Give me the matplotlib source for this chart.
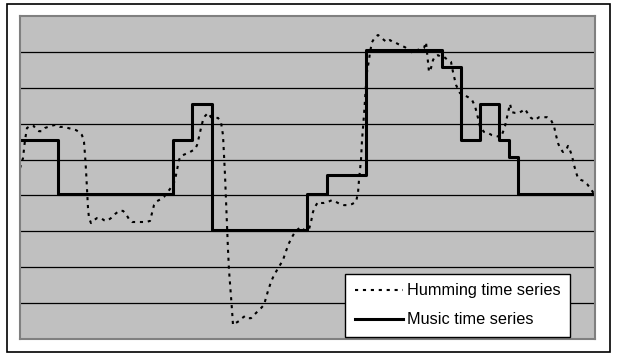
import matplotlib
matplotlib.use('Agg')
import matplotlib.pyplot as plt
from matplotlib.patches import Rectangle

# humming pitch contour (time in frames, pitch in grid units)
hum_t = [0, 3, 5, 7, 10, 13, 16, 19, 22, 25,
         28, 31, 34, 37, 40, 44, 48, 52, 56, 59,
         62, 64, 65, 66, 67, 68, 69, 71, 74, 77,
         81, 84, 87, 91, 95, 99, 103, 106, 109, 112,
         116, 121, 126, 130, 132, 134, 137, 141, 144, 147,
         150, 153, 155, 157, 159, 161, 165, 170, 175, 177,
         179, 181, 183, 185, 188, 191, 194, 198, 201, 203,
         204, 205, 206, 207, 208, 209, 210, 211, 212, 213,
         216, 219, 222, 225, 228, 231, 234, 237, 241, 244,
         246, 248, 251, 254, 257, 260, 263, 266, 269, 272,
         275, 278, 281, 284, 287, 289, 291, 293, 295, 298,
         301, 304, 308, 312, 316, 320, 324, 328, 332, 336,
         338, 339, 341, 342, 344, 345, 346, 347, 349, 350,
         352, 355, 358, 361, 364, 367, 370, 373, 376, 380,
         385, 389, 393, 397, 401, 404, 406, 407, 408, 409,
         411, 413, 415, 418, 421, 424, 428, 431, 433, 436,
         440, 444, 448, 452, 455, 458, 460, 464, 468, 472,
         477, 481, 483, 485, 487, 489, 490, 492, 495, 499,
         502, 505, 508, 511, 515, 519, 523, 527, 531, 534,
         536, 538, 540, 543, 546, 548, 550, 552, 554, 556,
         558, 561, 564, 567, 570, 573, 575]
hum_pitch = [4.76, 5.04, 5.54, 5.88, 5.93, 5.96, 5.85, 5.79, 5.79, 5.88,
             5.91, 5.93, 5.96, 5.96, 5.91, 5.91, 5.88, 5.85, 5.82, 5.77,
             5.68, 5.49, 5.13, 4.71, 4.15, 3.65, 3.37, 3.23, 3.31, 3.37,
             3.37, 3.31, 3.29, 3.37, 3.48, 3.57, 3.57, 3.48, 3.34, 3.26,
             3.26, 3.26, 3.26, 3.29, 3.51, 3.73, 3.84, 3.90, 3.96, 4.07,
             4.18, 4.29, 4.43, 4.71, 4.99, 5.10, 5.15, 5.21, 5.29, 5.40,
             5.63, 5.88, 6.10, 6.21, 6.30, 6.18, 6.16, 6.16, 6.04, 5.68,
             5.13, 4.57, 3.87, 3.18, 2.48, 1.92, 1.56, 1.23, 0.81, 0.39,
             0.45, 0.50, 0.58, 0.64, 0.58, 0.58, 0.67, 0.75, 0.86, 0.95,
             1.14, 1.34, 1.59, 1.78, 1.92, 2.06, 2.20, 2.45, 2.67, 2.84,
             2.98, 3.06, 3.12, 3.04, 3.01, 3.06, 3.26, 3.54, 3.68, 3.82,
             3.79, 3.79, 3.82, 3.87, 3.82, 3.76, 3.73, 3.73, 3.76, 3.82,
             4.07, 4.43, 4.99, 5.54, 6.24, 6.66, 7.08, 7.44, 7.77, 7.99,
             8.27, 8.41, 8.47, 8.41, 8.33, 8.27, 8.33, 8.27, 8.25, 8.19,
             8.13, 8.05, 7.97, 8.05, 8.08, 8.11, 8.27, 7.99, 7.69, 7.44,
             7.55, 7.77, 7.88, 7.91, 7.86, 7.86, 7.77, 7.72, 7.44, 7.08,
             6.85, 6.80, 6.74, 6.66, 6.49, 6.16, 5.91, 5.77, 5.74, 5.68,
             5.65, 5.63, 5.77, 5.93, 6.18, 6.43, 6.55, 6.32, 6.30, 6.30,
             6.35, 6.41, 6.27, 6.16, 6.10, 6.18, 6.18, 6.18, 6.10, 5.93,
             5.68, 5.46, 5.32, 5.21, 5.26, 5.38, 5.26, 5.10, 4.85, 4.65,
             4.48, 4.43, 4.40, 4.32, 4.21, 4.09, 4.04]

# note onsets of the melody and the pitch held from each onset
music_t = [0, 38, 153, 172, 192, 287, 307, 346, 422, 441, 460, 479, 489, 498, 575]
music_pitch = [5.54, 4.04, 5.54, 6.55, 3.04, 4.04, 4.57, 8.05, 7.58, 5.54,
               6.55, 5.54, 5.07, 4.04, 4.04]

labels = ['Humming time series', 'Music time series']


def draw():
    W, H = 618, 354
    fig = plt.figure(figsize=(W / 100, H / 100), dpi=100)

    # chart border
    fig.patches.append(Rectangle((7 / W, 2 / H), 603 / W, 348 / H,
                                 transform=fig.transFigure, fill=False,
                                 ec='black', lw=1.2))

    ax = fig.add_axes([20 / W, 15 / H, 575 / W, 323 / H])
    ax.set_facecolor('#c0c0c0')
    for s in ax.spines.values():
        s.set_color('#808080')
        s.set_linewidth(1.5)

    ax.plot(hum_t, hum_pitch, color='black', lw=1.5,
            dashes=(1.5, 2.3), label=labels[0])
    ax.plot(music_t, music_pitch, color='black', lw=2.2,
            drawstyle='steps-post', label=labels[1])

    ax.set_xlim(0, 575)
    ax.set_ylim(0, 9)
    ax.set_xticks([])
    ax.set_yticks(range(1, 9))
    ax.tick_params(length=0, labelleft=False)
    ax.yaxis.grid(True, color='black', lw=0.9)
    ax.set_axisbelow(True)

    leg = ax.legend(loc='lower right', bbox_to_anchor=(0.9565, 0.006),
                    borderaxespad=0, frameon=True, fancybox=False,
                    framealpha=1, edgecolor='black',
                    prop={'family': 'Liberation Sans', 'size': 11.7},
                    handlelength=3.0, handletextpad=0.2,
                    labelspacing=0.85, borderpad=0.6)
    leg.get_frame().set_linewidth(1.0)

    fig.savefig('out.png', dpi=100, facecolor='white')


def main():
    draw()


if __name__ == '__main__':
    main()
